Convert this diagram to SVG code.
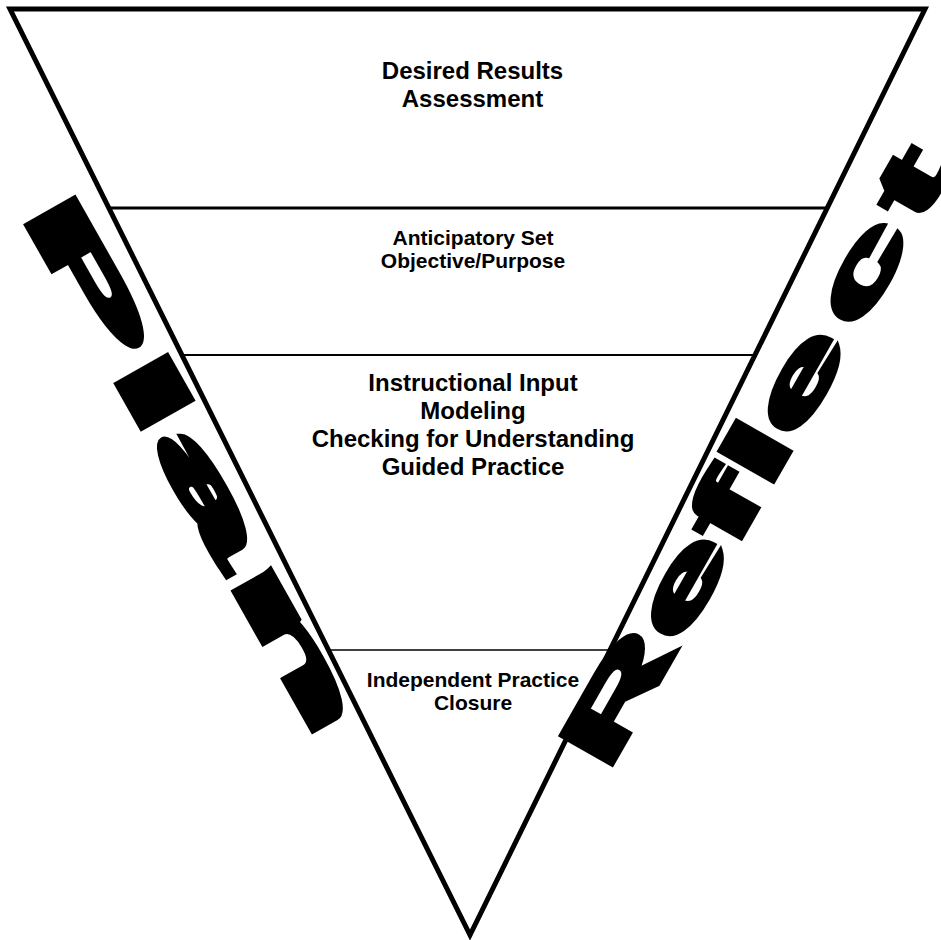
<svg xmlns="http://www.w3.org/2000/svg" width="941" height="940" viewBox="0 0 941 940">
<style>
.edge{fill:none;stroke:#000;stroke-width:5;stroke-linejoin:miter}
.div{stroke:#000;fill:none}
.lbl{font-family:"Liberation Sans",Arial,sans-serif;font-weight:bold;fill:#000;text-anchor:middle}
.l24{font-size:24px}
.l21{font-size:21px}
.big{font-family:"Liberation Sans",Arial,sans-serif;font-weight:bold;fill:#000;stroke:#000;stroke-linejoin:miter}
.pl{font-size:78px;stroke-width:6.5}
.rf{font-size:84px;stroke-width:5.5}
</style>
<rect width="941" height="940" fill="#fff"/>
<g id="triangle">
<polygon class="edge" points="10,9 925,9 470,935"/>
</g>
<g id="dividers">
<line class="div" x1="109" y1="208" x2="827" y2="208" stroke-width="3"/>
<line class="div" x1="182" y1="355" x2="755" y2="355" stroke-width="2"/>
<line class="div" x1="328.5" y1="650" x2="610" y2="650" stroke-width="1.6"/>
</g>
<g id="band1">
<text class="lbl l24" x="472.5" y="79">Desired Results</text>
<text class="lbl l24" x="472.5" y="107">Assessment</text>
</g>
<g id="band2">
<text class="lbl l21" x="473" y="245">Anticipatory Set</text>
<text class="lbl l21" x="473" y="268">Objective/Purpose</text>
</g>
<g id="band3">
<text class="lbl l24" x="473" y="391">Instructional Input</text>
<text class="lbl l24" x="473" y="419">Modeling</text>
<text class="lbl l24" x="473" y="447">Checking for Understanding</text>
<text class="lbl l24" x="473" y="475">Guided Practice</text>
</g>
<g id="band4">
<text class="lbl l21" x="473" y="687">Independent Practice</text>
<text class="lbl l21" x="473" y="710">Closure</text>
</g>
<g id="plan" transform="translate(22.8,216.9) rotate(60.5) scale(3.25,1)">
<text class="big pl" x="0" y="0">P</text>
<text class="big pl" x="56" y="0">l</text>
<text class="big pl" x="81" y="0">a</text>
<text class="big pl" transform="translate(129,0) scale(1.16,1)" x="0" y="0">n</text>
</g>
<g id="reflect" transform="translate(604.6,776.6) rotate(-60.3) scale(2.3,1)">
<text class="big rf" x="2.3 65.5 113.3 143.7 168 222.8 276.2" y="0">Reflect</text>
</g>
</svg>
